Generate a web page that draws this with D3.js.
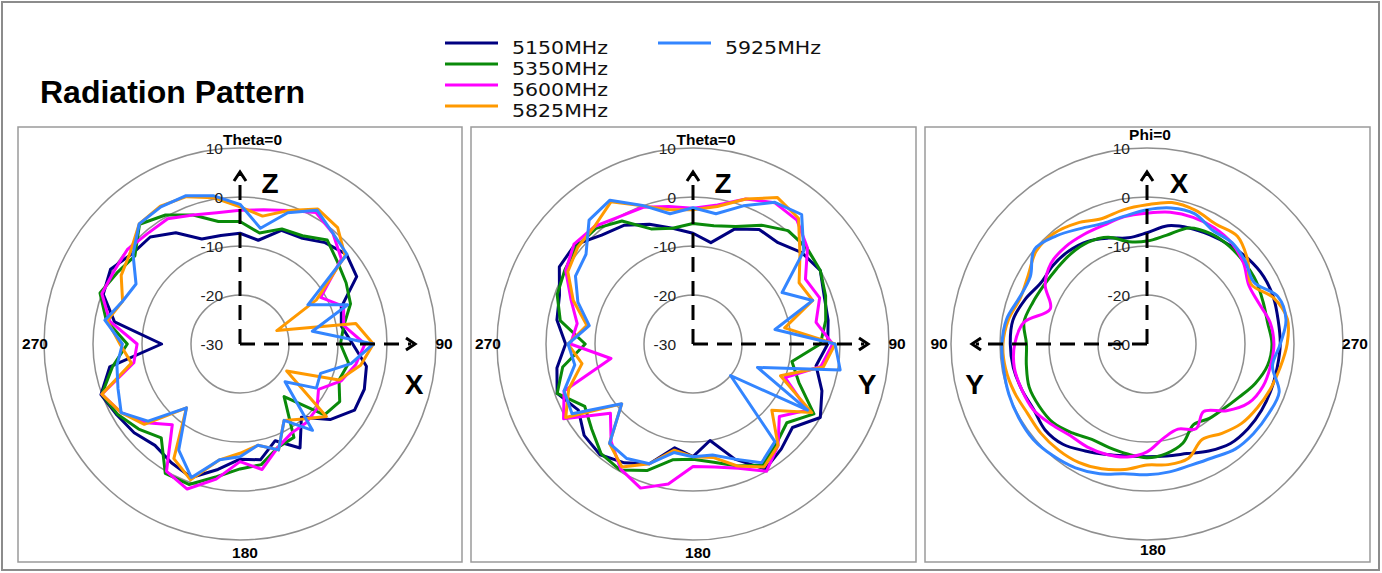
<!DOCTYPE html>
<html>
<head>
<meta charset="utf-8">
<script src="https://cdn.jsdelivr.net/npm/d3@7"></script>
<style>
  html, body { margin: 0; padding: 0; background: #ffffff; }
  svg { display: block; }
</style>
</head>
<body>
<div id="chart"></div>
<script>
// ---------------- DATA ----------------
const angles = [0,10,20,30,40,50,60,70,80,90,100,110,120,130,140,150,160,170,
                180,190,200,210,220,230,240,250,260,270,280,290,300,310,320,330,340,350];
const seriesNames = ["5150MHz", "5350MHz", "5600MHz", "5825MHz", "5925MHz"];
const seriesColors = ["#000080", "#0a8a0a", "#ff00ff", "#ff9900", "#3385ff"];
const radialTicks = [10, 0, -10, -20, -30];

// Panel 1: XZ plane (Theta), dB
const xz5150 = [-7.4,-8.5,-5.3,-5,-3,-1.6,-2.5,-8,-9,-7,-3.8,-3,-3,-6,-10.5,-5.5,-9,-6,
                -6.5,-4,-1,-2,-3,-1.8,-1,0.2,-3,-14,-4,-0.3,0.5,-1.3,-1.5,-3.8,-7.2,-7.5];
const xz5350 = [-5,-7,-5,-4.5,-2.3,-4,-5,-6,-8.5,-9.5,-7.5,-8.5,-6.5,-7.5,-16,-8,-7.5,-5,
                -4.5,-2.5,0.5,0.5,-5,-3,-1.2,0,-3.6,-7,-2.3,0.4,-1,-2,1.9,0.4,-2,-4.6];
const xz5600 = [-2.7,-2.2,-1,1,-0.5,-3,-11,-7.5,-8.5,-4.5,-6,-8,-11.5,-9.5,-9,-9,-7.5,-4,
                -6,-2,1.5,0,-8.5,-5,-2,0,-8,-9,-3,0,-0.3,0,-0.6,-0.5,-2,-2.8];
const xz5825 = [-2,-3.5,-1,1.8,1,-2,-12,-22,-6,-2.8,-5,-8.5,-19,-7,-10,-12,-7,-9,
                -7.7,-6,-0.5,-3,-13,-4.5,-2,0,-7.5,-5.5,-2.5,-4.5,-2,-0.8,2,2.5,2,0.3];
const xz5925 = [-1.5,-6,-1.5,1.5,-0.5,-1.5,-14,-6.6,-15,-2.8,-7,-12.5,-12,-18,-7,-12,-7,-9,
                -7,-6,-1,-5,-13,-5.5,-2,-3.5,-4.5,-6,-2,-4.5,-5.5,-1.5,2,2.3,2.2,0.7];

// Panel 2: YZ plane (Theta), dB
const yz5150 = [-7.4,-9,-5,-3,-3,-1,0,-1.5,-2,-2.5,-4.5,-2,0,-3.5,-2,-0.5,-5,-10,
                -7,-8.5,-4,-2,-0.5,-1,-3,-0.5,-1.8,-4,-1.8,-1,1.5,1.5,-1,-2,-4,-6];
const yz5350 = [-5.4,-5.5,-4.5,-2,0.2,0.4,0,-1.2,-2.5,-4,-9.5,-7,-1.5,-5,-3.5,-1.5,-3.5,-5.5,
                -6.5,-6,-2.5,-0.3,-0.8,-3,-4.5,-0.5,-3,-8,-2.5,-0.5,0.2,1,0.8,-1,-5,-6];
const yz5600 = [-2.3,-1.2,1.5,3.3,3,0.5,-3.5,-2.5,-4.5,-1.5,-3.5,-10,-3,-7,-3,0,-3,-4.5,
                -5,-1,1.3,-0.5,-4,-8,0.5,-2,-13,-5,-6,-3.5,0,1.7,1.3,0,-0.3,-1.5];
const yz5825 = [-2.6,-1.5,1.5,4.5,3.5,-1.5,-5,-4,-11,-1,-3,-11,-2,-9,-3,-1,-3.5,-6.5,
                -7,-8,-4,-1,-3.5,-11,0,-3,-7,-4.5,-8,-4,-0.5,0.7,1.3,3.5,0,-2.2];
const yz5925 = [-2.2,-3,0,3.4,4.5,-0.5,-9,-4,-13,-1,0.5,-16,-3,-20,-4,-2,-5,-7,
                -7,-7.5,-4,-3,-3.5,-11,-1.5,-2,-5.5,-4.5,-8.5,-5,-2.3,-1.5,3,3.9,0.1,-3];

// Panel 3: XY plane (Phi), dB  (angles run counter-clockwise)
const xy5150 = [-7.3,-8,-7,-5.8,-5.2,-5,-5,-3.5,-2.2,-2.1,-2.3,-2.8,-3.3,-2.8,-3.3,-4.8,-6,-6.8,
                -7,-6.8,-6.2,-4.8,-3.5,-3.1,-3,-3,-3,-2.8,-2.8,-2.5,-2.5,-3,-3.7,-4.3,-4.8,-5.5];
const xy5350 = [-9,-8.8,-6.8,-6,-5.9,-6,-5.8,-5.2,-4.5,-5.4,-5,-4.4,-4.6,-5,-6.3,-7.5,-7.5,-7.2,
                -6.8,-7.3,-8.5,-11,-10.2,-9.5,-8.3,-6.5,-5,-4.5,-5,-4.8,-4.3,-4.1,-3.9,-4,-4.8,-7.5];
const xy5600 = [-3.3,-3.6,-4.2,-4.2,-4.1,-4.4,-6,-9,-4.5,-3,-2.5,-2.8,-3.2,-4.5,-5.6,-5.7,-6,-6.6,
                -8,-10.5,-11.5,-10,-12,-8.8,-6,-4.8,-4.4,-4.1,-4.5,-5.7,-6,-4.3,-3.1,-2.6,-2.5,-2.7];
const xy5825 = [-1.6,-2.2,-2.8,-1.5,-0.5,-0.5,-2,-2.5,-1.3,-0.6,-0.7,-1.2,-1.8,-1.7,-1.8,-2.1,-2.9,-4,
                -5.3,-5,-5.2,-7.5,-6.2,-4.8,-4,-3.2,-2.4,-1.4,-0.9,-2.5,-5.5,-3.2,-1.3,-1.8,-1,-0.7];
const xy5925 = [-2.6,-3.5,-3.8,-2.8,-1.2,0,-2.5,-2.3,-0.9,-0.4,-0.3,0,0.2,0.3,-0.2,-0.8,-1.8,-3.1,
                -3.3,-3.5,-3.7,-3.2,-2,-1.6,-1.4,-1.3,-4,-2.8,-1.2,-1.6,-4.8,-3.8,-3,-3.2,-1.7,-1.8];

// ---------------- LAYOUT ----------------
const W = 1382, H = 573;
const svg = d3.select("#chart").append("svg").attr("width", W).attr("height", H);
svg.append("rect").attr("width", W).attr("height", H).attr("fill", "#fff");
svg.append("rect").attr("x", 2).attr("y", 2).attr("width", 1377).attr("height", 568)
   .attr("fill", "none").attr("stroke", "#8c8c8c").attr("stroke-width", 2);

svg.append("text").attr("x", 40).attr("y", 103)
   .attr("font-family", "'Liberation Sans', Arial, sans-serif")
   .attr("font-weight", "bold").attr("font-size", 32).attr("fill", "#000")
   .text("Radiation Pattern");

// legend
const legendPos = [[445, 43], [445, 64], [445, 85], [445, 106], [658, 43]];
seriesNames.forEach((name, i) => {
  const [lx, ly] = legendPos[i];
  svg.append("line").attr("x1", lx).attr("x2", lx + 53).attr("y1", ly).attr("y2", ly)
     .attr("stroke", seriesColors[i]).attr("stroke-width", 3.2);
  svg.append("text").attr("x", lx + 67).attr("y", ly + 10.5)
     .attr("font-family", "'DejaVu Sans', sans-serif").attr("font-size", 17.5)
     .attr("textLength", 96).attr("lengthAdjust", "spacingAndGlyphs")
     .attr("fill", "#111").text(name);
});

const panels = [
  { box: [18, 127, 444, 435], cx: 240, cy: 344, dir: 1, smooth: false,
    data: [xz5150, xz5350, xz5600, xz5825, xz5925],
    topLabel: "Theta=0", topDx: 12.5, topDy: -199,
    leftLabel: "270", leftDx: -205, rightLabel: "90", rightDx: 204,
    bottomDx: 5, bottomDy: 214,
    vLetter: "Z", vDx: 30, hLetter: "X", hDx: 174, hDir: 1 },
  { box: [471, 127, 445, 435], cx: 693, cy: 344, dir: 1, smooth: false,
    data: [yz5150, yz5350, yz5600, yz5825, yz5925],
    topLabel: "Theta=0", topDx: 13, topDy: -199,
    leftLabel: "270", leftDx: -205, rightLabel: "90", rightDx: 204,
    bottomDx: 5, bottomDy: 214,
    vLetter: "Z", vDx: 30, hLetter: "Y", hDx: 174, hDir: 1 },
  { box: [925, 127, 445, 435], cx: 1147, cy: 344, dir: -1, smooth: true,
    data: [xy5150, xy5350, xy5600, xy5825, xy5925],
    topLabel: "Phi=0", topDx: 3, topDy: -204,
    leftLabel: "90", leftDx: -208, rightLabel: "270", rightDx: 208,
    bottomDx: 6, bottomDy: 211,
    vLetter: "X", vDx: 32, hLetter: "Y", hDx: -172.5, hDir: -1 }
];

const r = d3.scaleLinear().domain([-30, 10]).range([0, 196]);
const labelFont = "'Liberation Sans', Arial, sans-serif";

panels.forEach(p => {
  svg.append("rect").attr("x", p.box[0]).attr("y", p.box[1])
     .attr("width", p.box[2]).attr("height", p.box[3])
     .attr("fill", "#fff").attr("stroke", "#9a9a9a").attr("stroke-width", 1.5);

  const g = svg.append("g").attr("transform", `translate(${p.cx},${p.cy})`);
  const ang = d3.scaleLinear().domain([0, 360]).range([0, p.dir * 2 * Math.PI]);

  // grid rings
  g.selectAll("circle.ring").data(radialTicks.filter(t => t > -30)).enter()
   .append("circle").attr("class", "ring")
   .attr("r", d => r(d)).attr("fill", "none")
   .attr("stroke", "#8f8f8f").attr("stroke-width", 1.5);

  // series
  const line = d3.lineRadial()
    .angle((d, i) => ang(angles[i]))
    .radius(d => r(Math.max(-30, d)))
    .curve(p.smooth ? d3.curveCatmullRomClosed.alpha(0.5) : d3.curveLinearClosed);
  p.data.forEach((s, i) => {
    g.append("path").attr("d", line(s)).attr("fill", "none")
     .attr("stroke", seriesColors[i]).attr("stroke-width", 3)
     .attr("stroke-linejoin", "round");
  });

  // radial tick labels
  g.selectAll("text.tick").data(radialTicks).enter().append("text")
   .attr("x", -17).attr("y", d => -r(d) + 5.5)
   .attr("text-anchor", "end").attr("font-family", labelFont)
   .attr("font-size", 15.5).attr("fill", "#222").text(d => d);

  // angle labels
  const angLabel = (txt, x, y) => g.append("text").attr("x", x).attr("y", y)
     .attr("text-anchor", "middle").attr("font-family", labelFont)
     .attr("font-weight", "bold").attr("font-size", 15.5).attr("fill", "#000").text(txt);
  angLabel(p.topLabel, p.topDx, p.topDy);
  angLabel(p.leftLabel, p.leftDx, 5);
  angLabel(p.rightLabel, p.rightDx, 5);
  angLabel("180", p.bottomDx, p.bottomDy);

  // dashed axes with arrow heads
  const ax = g.append("g").attr("stroke", "#000").attr("stroke-width", 3).attr("fill", "none");
  ax.append("line").attr("x1", 0).attr("y1", 0).attr("x2", 0).attr("y2", -170)
    .attr("stroke-dasharray", "15,9");
  ax.append("line").attr("x1", 0).attr("y1", 0).attr("x2", p.hDir * 171).attr("y2", 0)
    .attr("stroke-dasharray", "15,9");
  ax.append("polyline").attr("points", "-6,-163 0,-172 6,-163");
  const hx = p.hDir * 175, hb = p.hDir * 166;
  ax.append("polyline").attr("points", `${hb},-6 ${hx},0 ${hb},6`);

  const letter = (txt, x, y) => g.append("text").attr("x", x).attr("y", y)
     .attr("text-anchor", "middle").attr("font-family", labelFont)
     .attr("font-weight", "bold").attr("font-size", 28).attr("fill", "#000").text(txt);
  letter(p.vLetter, p.vDx, -151);
  letter(p.hLetter, p.hDx, 50);
});
</script>
</body>
</html>
